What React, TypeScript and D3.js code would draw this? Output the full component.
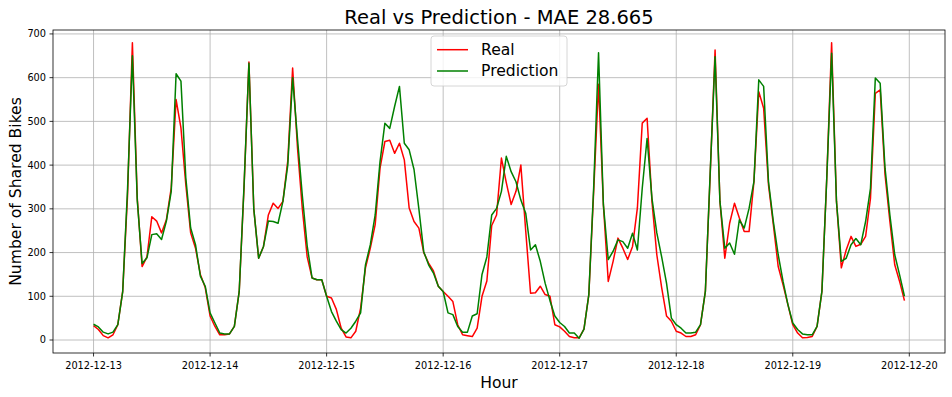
import React from "react";
import * as d3 from "d3";

const START = Date.UTC(2012, 11, 13, 0, 0, 0);
const HOURS = 168;

const realValues: number[] = [
  // 2012-12-13
  33, 24, 10, 5, 12, 35, 111, 330, 680, 325, 168, 190, 282, 272, 245, 275, 348, 550, 485, 356, 245, 210, 150, 120,
  // 2012-12-14
  55, 31, 12, 12, 14, 31, 111, 350, 636, 300, 187, 214, 286, 313, 301, 317, 410, 622, 440, 300, 190, 142, 138, 138,
  // 2012-12-15
  100, 96, 70, 27, 7, 5, 20, 73, 165, 210, 264, 393, 454, 457, 427, 450, 412, 302, 271, 256, 200, 176, 158, 123,
  // 2012-12-16
  111, 100, 88, 35, 12, 10, 8, 27, 100, 135, 262, 286, 416, 360, 310, 340, 400, 250, 107, 108, 123, 104, 100, 35,
  // 2012-12-17
  30, 20, 8, 5, 5, 25, 104, 340, 585, 309, 134, 180, 233, 210, 184, 214, 302, 496, 507, 317, 195, 120, 55, 43,
  // 2012-12-18
  20, 16, 8, 8, 12, 35, 111, 380, 663, 317, 187, 267, 313, 279, 248, 248, 362, 568, 530, 355, 264, 168, 126, 81,
  // 2012-12-19
  35, 16, 5, 6, 8, 31, 111, 370, 680, 317, 165, 206, 237, 214, 219, 237, 324, 564, 572, 378, 271, 172, 134, 90,
];

const predValues: number[] = [
  // 2012-12-13
  36, 30, 18, 14, 18, 35, 110, 345, 650, 320, 175, 188, 241, 243, 230, 272, 340, 609, 592, 371, 256, 218, 146, 123,
  // 2012-12-14
  62, 39, 16, 14, 14, 31, 111, 355, 633, 300, 187, 214, 272, 271, 267, 317, 400, 600, 460, 330, 215, 142, 138, 138,
  // 2012-12-15
  100, 65, 43, 24, 16, 27, 43, 62, 172, 218, 286, 408, 496, 484, 534, 580, 450, 435, 390, 300, 202, 172, 153, 123,
  // 2012-12-16
  111, 62, 58, 31, 18, 18, 55, 60, 150, 190, 286, 301, 340, 420, 385, 362, 320, 290, 206, 218, 180, 130, 90, 55,
  // 2012-12-17
  40, 31, 16, 16, 4, 25, 104, 350, 657, 309, 184, 203, 229, 225, 210, 244, 206, 347, 461, 324, 245, 190, 130, 50,
  // 2012-12-18
  35, 27, 16, 16, 18, 35, 111, 385, 648, 317, 210, 222, 196, 275, 256, 301, 362, 595, 580, 362, 271, 195, 134, 81,
  // 2012-12-19
  39, 24, 14, 12, 12, 31, 111, 370, 656, 317, 180, 187, 218, 232, 218, 271, 347, 599, 587, 393, 286, 195, 149, 100,
];

const yTicks: number[] = [0, 100, 200, 300, 400, 500, 600, 700];
const xTickDays: number[] = [13, 14, 15, 16, 17, 18, 19, 20];

const seriesNames: string[] = ["Real", "Prediction"];
const seriesColors: string[] = ["red", "green"];

const W = 952;
const H = 397;
const L = 53;
const R = 945;
const T = 30;
const B = 353;

export default function App() {
  const HOUR = 3600 * 1000;
  const pad = (HOURS - 1) * 0.05;
  const x = d3
    .scaleUtc()
    .domain([new Date(START - pad * HOUR), new Date(START + (HOURS - 1 + pad) * HOUR)])
    .range([L, R]);
  const y = d3.scaleLinear().domain([-29.7, 709]).range([B, T]);

  const mk = (vals: number[]) =>
    vals.map((v, i) => ({ t: new Date(START + i * HOUR), v }));
  const line = d3
    .line<{ t: Date; v: number }>()
    .x((d) => x(d.t))
    .y((d) => y(d.v));

  const fmt = d3.utcFormat("%Y-%m-%d");
  const xTicks = xTickDays.map((d) => new Date(Date.UTC(2012, 11, d)));
  const font = "DejaVu Sans, sans-serif";

  const legX = 431;
  const legY = 36;
  const legW = 136;
  const legH = 50;

  return (
    <svg
      width={W}
      height={H}
      style={{ position: "absolute", left: 0, top: 0, background: "#fff" }}
      fontFamily={font}
    >
      <rect x={0} y={0} width={W} height={H} fill="#fff" />
      <defs>
        <clipPath id="plotclip">
          <rect x={L} y={T} width={R - L} height={B - T} />
        </clipPath>
      </defs>
      {/* grid */}
      {xTicks.map((t, i) => (
        <line key={"gx" + i} x1={x(t)} x2={x(t)} y1={T} y2={B} stroke="#b0b0b0" strokeWidth={0.8} />
      ))}
      {yTicks.map((v, i) => (
        <line key={"gy" + i} x1={L} x2={R} y1={y(v)} y2={y(v)} stroke="#b0b0b0" strokeWidth={0.8} />
      ))}
      {/* lines */}
      <g clipPath="url(#plotclip)">
        <path d={line(mk(realValues)) || ""} fill="none" stroke={seriesColors[0]} strokeWidth={1.5} strokeLinejoin="round" />
        <path d={line(mk(predValues)) || ""} fill="none" stroke={seriesColors[1]} strokeWidth={1.5} strokeLinejoin="round" />
      </g>
      {/* spines */}
      <rect x={L} y={T} width={R - L} height={B - T} fill="none" stroke="#000" strokeWidth={0.8} />
      {/* x ticks */}
      {xTicks.map((t, i) => (
        <g key={"xt" + i}>
          <line x1={x(t)} x2={x(t)} y1={B} y2={B + 3.5} stroke="#000" strokeWidth={0.8} />
          <text x={x(t)} y={368.5} fontSize={9.75} textAnchor="middle" fill="#000">
            {fmt(t)}
          </text>
        </g>
      ))}
      {/* y ticks */}
      {yTicks.map((v, i) => (
        <g key={"yt" + i}>
          <line x1={L - 3.5} x2={L} y1={y(v)} y2={y(v)} stroke="#000" strokeWidth={0.8} />
          <text x={L - 7} y={y(v)} dy="0.35em" fontSize={9.75} textAnchor="end" fill="#000">
            {v}
          </text>
        </g>
      ))}
      {/* title & labels */}
      <text x={(L + R) / 2} y={23.5} fontSize={19.5} textAnchor="middle" fill="#000">
        Real vs Prediction - MAE 28.665
      </text>
      <text x={(L + R) / 2} y={387.5} fontSize={15.6} textAnchor="middle" fill="#000">
        Hour
      </text>
      <text
        transform={`translate(20.5, ${(T + B) / 2}) rotate(-90)`}
        fontSize={15.6}
        textAnchor="middle"
        fill="#000"
      >
        Number of Shared Bikes
      </text>
      {/* legend */}
      <rect x={legX} y={legY} width={legW} height={legH} rx={3} ry={3} fill="#fff" fillOpacity={0.8} stroke="#cccccc" strokeWidth={0.8} />
      {seriesNames.map((n, i) => {
        const cy = legY + 13.7 + i * 21.3;
        return (
          <g key={"lg" + i}>
            <line x1={legX + 6} x2={legX + 37} y1={cy} y2={cy} stroke={seriesColors[i]} strokeWidth={1.5} />
            <text x={legX + 50} y={cy} dy="0.35em" fontSize={15.6} fill="#000">
              {n}
            </text>
          </g>
        );
      })}
    </svg>
  );
}
